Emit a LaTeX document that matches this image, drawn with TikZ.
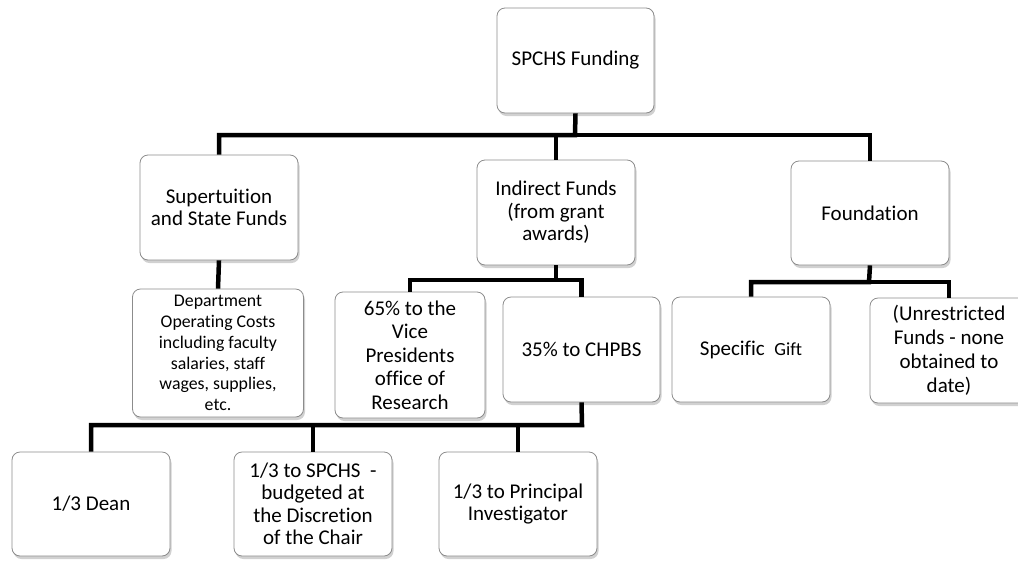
\documentclass[tikz,border=0pt]{standalone}
\usepackage{fontspec}
\setmainfont{Carlito}[Ligatures=NoCommon]
\usetikzlibrary{shadows}
\tikzset{
  box/.style={draw=black!45, line width=0.8pt, fill=white, rounded corners=8pt,
    align=center, inner sep=0pt, font=\fontsize{21}{22.5}\selectfont,
    drop shadow={shadow xshift=1.5pt, shadow yshift=-3pt, opacity=0.3, fill=black!60}},
  smallbox/.style={box, font=\fontsize{17.8}{20.8}\selectfont},
  conn/.style={draw=black, line width=4.5pt}
}
\begin{document}
\begin{tikzpicture}[x=1pt,y=-1pt]
\useasboundingbox (0,0) rectangle (1018,563);
\clip (0,0) rectangle (1018,563);
% level 0
\node[box, minimum width=157pt, minimum height=105pt] (root) at (575.5,60.5) {SPCHS Funding};
% level 1
\node[box, minimum width=158pt, minimum height=105pt] (sup) at (219,207.5) {Supertuition\\and State Funds};
\node[box, minimum width=158pt, minimum height=105pt] (ind) at (556,212.5) {Indirect Funds\\(from grant\\awards)};
\node[box, minimum width=158pt, minimum height=104pt] (fnd) at (870,213) {Foundation};
% level 2
\node[smallbox, minimum width=171pt, minimum height=128pt] (dep) at (218,353) {Department\\Operating Costs\\including faculty\\salaries, staff\\wages, supplies,\\etc.};
\node[box, font=\fontsize{21}{23.5}\selectfont, minimum width=150pt, minimum height=126pt] (p65) at (410,355) {65\% to the\\Vice\\Presidents\\office of\\Research};
\node[box, minimum width=157pt, minimum height=105pt] (p35) at (581.5,349.5) {35\% to CHPBS};
\node[box, minimum width=158pt, minimum height=105pt] (gift) at (751,349.5) {Specific\ \ {\fontsize{18.5}{20}\selectfont Gift}};
\node[box, font=\fontsize{21}{24}\selectfont, minimum width=158pt, minimum height=105pt] (unr) at (949,350.5) {(Unrestricted\\Funds - none\\obtained to\\date)};
% level 3
\node[box, minimum width=158pt, minimum height=104pt] (dean) at (91,504) {1/3 Dean};
\node[box, minimum width=158pt, minimum height=104pt] (spc) at (313,504) {1/3 to SPCHS\ \ -\\budgeted at\\the Discretion\\of the Chair};
\node[box, minimum width=158pt, minimum height=104pt] (pi) at (518,504) {1/3 to Principal\\Investigator};
% bus points
\coordinate (b0) at (575,135);
\coordinate (b1) at (556,280);
\coordinate (b2) at (869,282);
\coordinate (b3) at (582,425);
% connectors
\draw[conn] (root.south) -- (b0) -| (sup.north);
\draw[conn] (b0) -| (ind.north);
\draw[conn] (b0) -| (fnd.north);
\draw[conn] (sup.south) -- (dep.north);
\draw[conn] (ind.south) -- (b1) -| (p65.north);
\draw[conn] (b1) -| (p35.north);
\draw[conn] (fnd.south) -- (b2) -| (gift.north);
\draw[conn] (b2) -| (unr.north);
\draw[conn] (p35.south) -- (b3) -| (dean.north);
\draw[conn] (b3) -| (spc.north);
\draw[conn] (b3) -| (pi.north);
\end{tikzpicture}
\end{document}
